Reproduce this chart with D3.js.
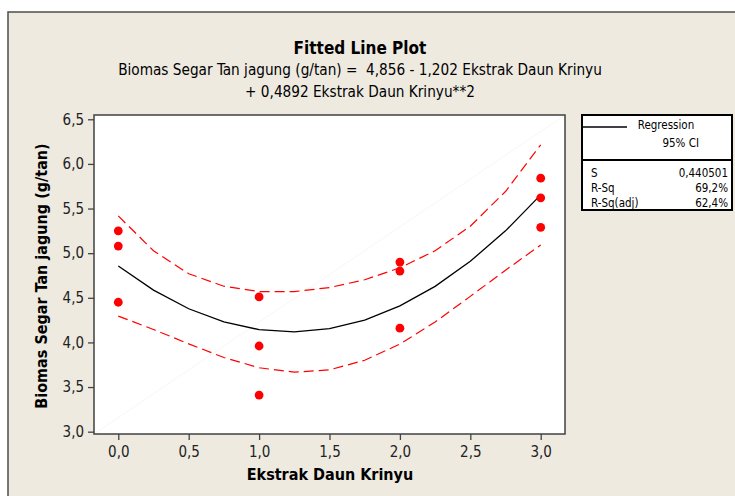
<!doctype html>
<html lang="id">
  <head>
    <meta charset="UTF-8">
    <title>Fitted Line Plot</title>
    <style>
      body {
        margin: 0;
        background: #fff;
      }
      text {
        font-family: "DejaVu Sans Condensed", "Liberation Sans Narrow", "DejaVu Sans", sans-serif;
        fill: #000;
        white-space: pre;
      }
      .title {
        font-size: 17px;
        font-weight: bold;
      }
      .subtitle {
        font-size: 15.2px;
      }
      .tick-label {
        font-size: 15px;
        fill: #222;
      }
      .axis-label {
        font-size: 16px;
        font-weight: bold;
      }
      .legend-text {
        font-size: 11.5px;
      }
    </style>
  </head>
  <body>
    <svg width="735" height="496"></svg>
    <script src="https://d3js.org/d3.v7.min.js"></script>
    <script>

      // observed data (Ekstrak Daun Krinyu vs Biomas Segar Tan jagung)
      var obsX = [0, 0, 0, 1, 1, 1, 2, 2, 2, 3, 3, 3];
      var obsY = [5.25, 5.08, 4.45, 4.51, 3.96, 3.41, 4.90, 4.80, 4.16, 5.84, 5.62, 5.29];

      // fitted curve and 95% CI band
      var fitX = [0, 0.25, 0.5, 0.75, 1, 1.25, 1.5, 1.75, 2, 2.25, 2.5, 2.75, 3];
      var fitY = [4.856, 4.586, 4.377, 4.230, 4.143, 4.118, 4.154, 4.251, 4.409, 4.628, 4.909, 5.250, 5.653];
      var ciUpper = [5.417, 5.027, 4.770, 4.629, 4.570, 4.569, 4.615, 4.702, 4.836, 5.027, 5.302, 5.691, 6.214];
      var ciLower = [4.295, 4.145, 3.984, 3.831, 3.716, 3.667, 3.693, 3.800, 3.982, 4.229, 4.516, 4.809, 5.092];

      var xTicks = [0, 0.5, 1, 1.5, 2, 2.5, 3];
      var yTicks = [3, 3.5, 4, 4.5, 5, 5.5, 6, 6.5];

      var statLabels = ["S", "R-Sq", "R-Sq(adj)"];
      var statValues = ["0,440501", "69,2%", "62,4%"];

      var titleText = "Fitted Line Plot";
      var subtitleLines = [
        "Biomas Segar Tan jagung (g/tan) =  4,856 - 1,202 Ekstrak Daun Krinyu",
        "+ 0,4892 Ekstrak Daun Krinyu**2"
      ];
      var xLabel = "Ekstrak Daun Krinyu";
      var yLabel = "Biomas Segar Tan jagung (g/tan)";

      var svg = d3.select("svg");

      var plot = {left: 94, right: 565, top: 115, bottom: 434};

      var locale = d3.formatLocale({decimal: ",", thousands: ".", grouping: [3], currency: ["", ""]});
      var fmt = locale.format(".1f");

      var x = d3.scaleLinear()
              .domain([-0.1725, 3.1725])
              .range([plot.left, plot.right]);

      var y = d3.scaleLinear()
              .domain([2.974, 6.548])
              .range([plot.bottom, plot.top]);

      // graph window frame
      svg.append("rect")
              .attr("x", 8).attr("y", 12)
              .attr("width", 740).attr("height", 500)
              .style("fill", "#eeeae0")
              .style("stroke", "#4d4d4d")
              .style("stroke-width", 1.5);

      // titles
      svg.append("text")
              .attr("class", "title")
              .attr("x", 360).attr("y", 54)
              .attr("text-anchor", "middle")
              .text(titleText);

      svg.selectAll(".subtitle")
              .data(subtitleLines)
              .enter().append("text")
              .attr("class", "subtitle")
              .attr("x", 360)
              .attr("y", function (d, i) {
                return 75 + i * 22;
              })
              .attr("text-anchor", "middle")
              .text(function (d) {
                return d;
              });

      // data region
      svg.append("rect")
              .attr("x", plot.left).attr("y", plot.top)
              .attr("width", plot.right - plot.left)
              .attr("height", plot.bottom - plot.top)
              .style("fill", "#fff");

      // faint diagonal artefact seen in the original
      svg.append("line")
              .attr("x1", plot.left).attr("y1", plot.bottom)
              .attr("x2", plot.right).attr("y2", plot.top)
              .style("stroke", "#f7f6f2")
              .style("stroke-width", 1);

      var xAxis = d3.axisBottom(x)
              .tickValues(xTicks)
              .tickFormat(fmt)
              .tickSize(6)
              .tickPadding(6);

      var yAxis = d3.axisLeft(y)
              .tickValues(yTicks)
              .tickFormat(fmt)
              .tickSize(6)
              .tickPadding(4);

      var gx = svg.append("g")
              .attr("transform", "translate(0," + plot.bottom + ")")
              .call(xAxis);
      var gy = svg.append("g")
              .attr("transform", "translate(" + plot.left + ",0)")
              .call(yAxis);

      [gx, gy].forEach(function (g) {
        g.select(".domain").remove();
        g.selectAll(".tick line").style("stroke", "#444").style("stroke-width", 1.3);
        g.selectAll(".tick text")
                .attr("class", "tick-label");
        g.attr("font-family", null).attr("font-size", null);
      });

      // axis titles
      svg.append("text")
              .attr("class", "axis-label")
              .attr("x", 330).attr("y", 480)
              .attr("text-anchor", "middle")
              .text(xLabel);

      svg.append("text")
              .attr("class", "axis-label")
              .attr("transform", "translate(47," + 276 + ") rotate(-90)")
              .attr("text-anchor", "middle")
              .text(yLabel);

      // CI band and fit
      var line = function (ys) {
        return d3.line()
                .x(function (d, i) {
                  return x(fitX[i]);
                })
                .y(function (d) {
                  return y(d);
                })(ys);
      };

      svg.append("path")
              .attr("d", line(ciUpper))
              .style("fill", "none")
              .style("stroke", "#ff0000")
              .style("stroke-width", 1.2)
              .style("stroke-dasharray", "10,5");

      svg.append("path")
              .attr("d", line(ciLower))
              .style("fill", "none")
              .style("stroke", "#ff0000")
              .style("stroke-width", 1.2)
              .style("stroke-dasharray", "10,5");

      svg.append("path")
              .attr("d", line(fitY))
              .style("fill", "none")
              .style("stroke", "#000")
              .style("stroke-width", 1.3);

      svg.selectAll(".obs")
              .data(obsY)
              .enter().append("circle")
              .attr("class", "obs")
              .attr("cx", function (d, i) {
                return x(obsX[i]);
              })
              .attr("cy", function (d) {
                return y(d);
              })
              .attr("r", 4.4)
              .style("fill", "#ff0000");

      // data region border on top
      svg.append("rect")
              .attr("x", plot.left).attr("y", plot.top)
              .attr("width", plot.right - plot.left)
              .attr("height", plot.bottom - plot.top)
              .style("fill", "none")
              .style("stroke", "#404040")
              .style("stroke-width", 1.5);

      // legend box
      var lg = svg.append("g");
      var lgBox = {left: 582, right: 732, top: 115, mid: 160, bottom: 210};

      lg.append("rect")
              .attr("x", lgBox.left).attr("y", lgBox.top)
              .attr("width", lgBox.right - lgBox.left)
              .attr("height", lgBox.bottom - lgBox.top)
              .style("fill", "#fff")
              .style("stroke", "#000")
              .style("stroke-width", 2);

      lg.append("line")
              .attr("x1", lgBox.left).attr("x2", lgBox.right)
              .attr("y1", lgBox.mid).attr("y2", lgBox.mid)
              .style("stroke", "#000")
              .style("stroke-width", 2);

      lg.append("line")
              .attr("x1", lgBox.left).attr("x2", 627)
              .attr("y1", 127).attr("y2", 127)
              .style("stroke", "#000")
              .style("stroke-width", 1.5);

      lg.append("text")
              .attr("class", "legend-text")
              .attr("x", 666).attr("y", 129)
              .attr("text-anchor", "middle")
              .text("Regression");

      lg.append("text")
              .attr("class", "legend-text")
              .attr("x", 699).attr("y", 147)
              .attr("text-anchor", "end")
              .text("95% CI");

      lg.selectAll(".stat-name")
              .data(statLabels)
              .enter().append("text")
              .attr("class", "legend-text stat-name")
              .attr("x", 591)
              .attr("y", function (d, i) {
                return 177 + i * 15;
              })
              .text(function (d) {
                return d;
              });

      lg.selectAll(".stat-value")
              .data(statValues)
              .enter().append("text")
              .attr("class", "legend-text stat-value")
              .attr("x", 728)
              .attr("y", function (d, i) {
                return 177 + i * 15;
              })
              .attr("text-anchor", "end")
              .text(function (d) {
                return d;
              });

    </script>
  </body>
</html>
